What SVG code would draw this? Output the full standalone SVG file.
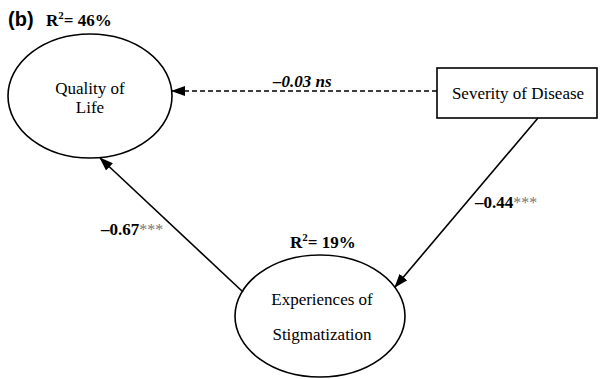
<svg xmlns="http://www.w3.org/2000/svg" width="600" height="379" viewBox="0 0 600 379">
<style>
.node{fill:#fff;stroke:#000;stroke-width:1.6}
.lbl{font-family:"Liberation Serif",serif;font-size:17px;fill:#000;text-anchor:middle}
.coef{font-family:"Liberation Serif",serif;font-size:17px;font-weight:bold;fill:#000}
.ast{fill:#777;font-size:16px;font-weight:normal}
.edge{stroke:#000;stroke-width:1.6;fill:none}
</style>
<defs>
<marker id="ah" markerWidth="14" markerHeight="10" refX="13" refY="5" orient="auto" markerUnits="userSpaceOnUse">
<path d="M0,0 L14,5 L0,10 Z" fill="#000"/>
</marker>
</defs>
<text x="8" y="26" font-family="Liberation Sans,sans-serif" font-size="20" font-weight="bold">(b)</text>
<text x="46" y="26" class="coef">R<tspan font-size="11" dy="-7">2</tspan><tspan dy="7">= 46%</tspan></text>
<g id="quality">
<ellipse class="node" cx="90" cy="96" rx="82" ry="62"/>
<text class="lbl" x="90" y="94">Quality of</text>
<text class="lbl" x="90" y="113">Life</text>
</g>
<g id="severity">
<rect class="node" x="437" y="68" width="160" height="50"/>
<text class="lbl" x="518" y="99">Severity of Disease</text>
</g>
<g id="stigma">
<ellipse class="node" cx="320" cy="316" rx="85" ry="61"/>
<text class="lbl" x="322" y="305">Experiences of</text>
<text class="lbl" x="322" y="340">Stigmatization</text>
<text x="290" y="248" class="coef">R<tspan font-size="11" dy="-7">2</tspan><tspan dy="7">= 19%</tspan></text>
</g>
<g id="connectors">
<line class="edge" x1="437" y1="91" x2="172" y2="91" stroke-dasharray="5,3" marker-end="url(#ah)"/>
<line class="edge" x1="538" y1="118" x2="395" y2="287" marker-end="url(#ah)"/>
<line class="edge" x1="243" y1="292" x2="100" y2="158" marker-end="url(#ah)"/>
<text x="273" y="87" class="coef" font-style="italic">–0.03 ns</text>
<text x="101" y="235" class="coef">–0.67<tspan class="ast">***</tspan></text>
<text x="475" y="208" class="coef">–0.44<tspan class="ast">***</tspan></text>
</g>
</svg>
